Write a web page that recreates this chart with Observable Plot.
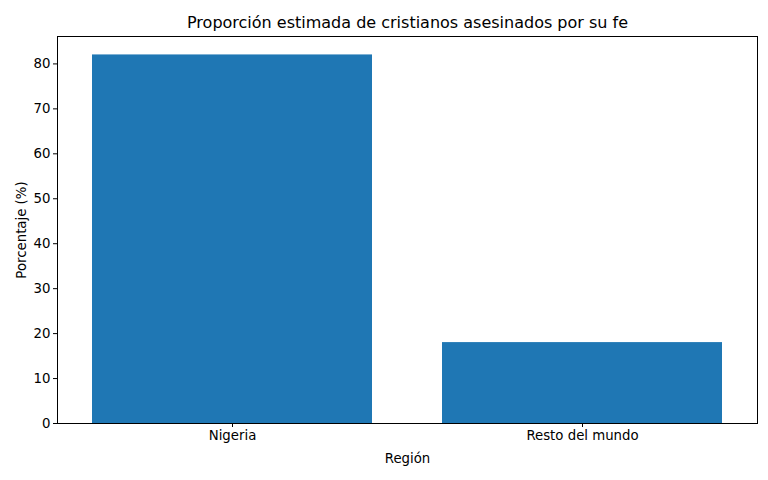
<!DOCTYPE html>
<html><head><meta charset="utf-8">
<script src="https://cdn.jsdelivr.net/npm/d3@7"></script>
<script src="https://cdn.jsdelivr.net/npm/@observablehq/plot@0.6"></script>
<style>body{margin:0;background:#fff;font-family:"DejaVu Sans",sans-serif;}</style>
</head><body><div id="chart"></div>
<script>
const regions = ["Nigeria", "Resto del mundo"];
const percentages = [82, 18];
const yTicks = [0, 10, 20, 30, 40, 50, 60, 70, 80];
const title = "Proporción estimada de cristianos asesinados por su fe";

const data = regions.map((r, i) => ({region: r, value: percentages[i]}));

const chart = Plot.plot({
  width: 768, height: 480,
  marginTop: 36, marginBottom: 57, marginLeft: 57, marginRight: 11,
  style: {fontFamily: "DejaVu Sans", fontSize: "13.3px", background: "#fff", color: "#000"},
  x: {domain: regions, paddingInner: 0.2, paddingOuter: 0.1, label: "Región", labelAnchor: "center", labelArrow: "none", labelOffset: 39, tickSize: 4, tickPadding: 3},
  y: {domain: [0, 86.1], ticks: yTicks, label: "Porcentaje (%)", labelAnchor: "center", labelArrow: "none", labelOffset: 41, tickSize: 4, tickPadding: 3},
  marks: [
    Plot.barY(data, {x: "region", y: "value", fill: "#1f77b4"}),
    Plot.frame({stroke: "#000", strokeWidth: 1}),
    Plot.text([title], {frameAnchor: "top", dy: -20, text: d => d, fontSize: 16, fill: "#000"})
  ]
});
document.getElementById("chart").append(chart);
</script></body></html>
